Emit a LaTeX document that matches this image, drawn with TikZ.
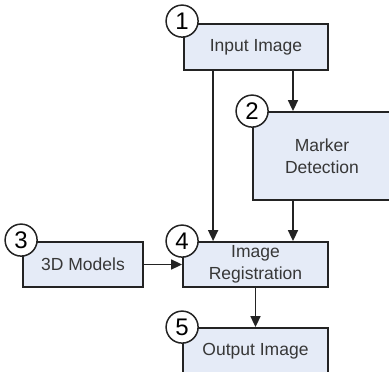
\documentclass[tikz,border=0pt]{standalone}
\usepackage{fontspec}
\setmainfont{Liberation Sans}
\usepackage{tikz}
\usetikzlibrary{arrows.meta}
\usetikzlibrary{calc}
\usetikzlibrary{positioning}
\definecolor{boxblue}{RGB}{229,235,247}
\definecolor{linegray}{RGB}{35,35,35}
\definecolor{textgray}{RGB}{55,55,55}

\tikzset{
  block/.style={draw=linegray,fill=boxblue,line width=1.8pt,align=center,
    text=textgray,inner sep=0pt,font=\fontsize{17.5}{21.5}\selectfont},
  num/.style={circle,draw=linegray,fill=white,line width=1.5pt,minimum size=32pt,
    inner sep=0pt,font=\fontsize{24}{24}\selectfont},
  flow/.style={->,line width=1.7pt,draw=linegray}
}

\begin{document}
\begin{tikzpicture}[x=1pt,y=-1pt,>={Triangle[length=11pt,width=10pt]}]
      \clip (0,0) rectangle (389,372);

      % boxes
      \node[block,minimum width=144pt,minimum height=46pt] (input) at (256,47) {Input Image};
      \node[block,minimum width=138pt,minimum height=88pt] (marker) at (322,156) {Marker\\Detection};
      \node[block,minimum width=120pt,minimum height=45pt] (models) at (83,264.5) {3D Models};
      \node[block,minimum width=145pt,minimum height=45pt] (reg) at (255.5,264.5) {Image\\Registration};
      \node[block,minimum width=145pt,minimum height=46pt] (output) at (255.5,351) {Output Image};

      % step numbers
      \node[num] (n1) at ([xshift=-1pt,yshift=2pt]input.north west) {1};
      \node[num] (n2) at (marker.north west) {2};
      \node[num] (n3) at ([xshift=-1pt,yshift=1pt]models.north west) {3};
      \node[num] (n4) at (reg.north west) {4};
      \node[num] (n5) at (output.north west) {5};

      % arrows
      \draw[flow] ([xshift=37pt]input.south) -- ([xshift=-29pt]marker.north);
      \draw[flow] ([xshift=30pt]input.south west) -- ([xshift=31pt]reg.north west);
      \draw[flow] ([xshift=-29pt]marker.south) -- ([xshift=37.5pt]reg.north);
      \draw[flow] (models.east) -- (reg.west);
      \draw[flow] (reg.south) -- (output.north);
    \end{tikzpicture}
\end{document}
